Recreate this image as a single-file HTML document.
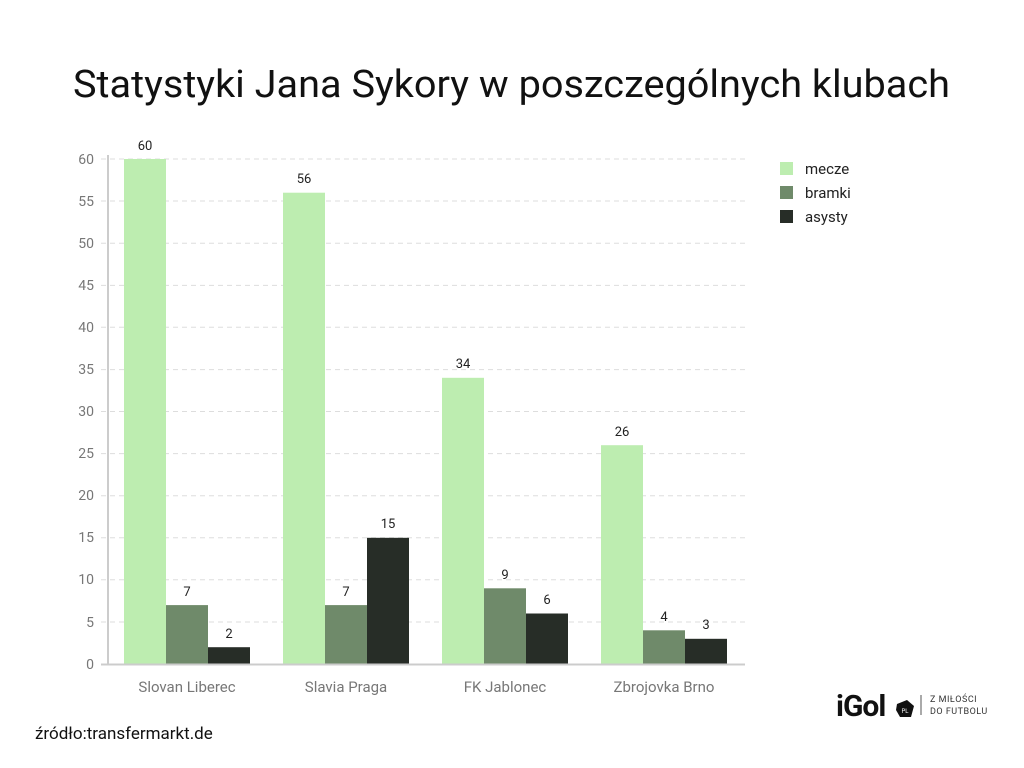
<!DOCTYPE html>
<html><head><meta charset="utf-8"><style>body{margin:0;background:#fff}svg{display:block}</style></head><body>
<svg width="1024" height="768" xmlns="http://www.w3.org/2000/svg" font-family="Roboto, 'Liberation Sans', sans-serif">
<text x="73" y="97" font-size="38" textLength="877" lengthAdjust="spacingAndGlyphs" fill="#111">Statystyki Jana Sykory w poszczególnych klubach</text>
<g stroke="#ddd" stroke-dasharray="5,4" stroke-width="1">
<line x1="101" x2="745" y1="159" y2="159"/><line x1="101" x2="745" y1="201" y2="201"/><line x1="101" x2="745" y1="243.3" y2="243.3"/><line x1="101" x2="745" y1="285.4" y2="285.4"/><line x1="101" x2="745" y1="327.3" y2="327.3"/><line x1="101" x2="745" y1="369.6" y2="369.6"/><line x1="101" x2="745" y1="411.5" y2="411.5"/><line x1="101" x2="745" y1="453.6" y2="453.6"/><line x1="101" x2="745" y1="495.7" y2="495.7"/><line x1="101" x2="745" y1="537.8" y2="537.8"/><line x1="101" x2="745" y1="579.8" y2="579.8"/><line x1="101" x2="745" y1="622" y2="622"/>
</g>
<g font-size="14" fill="#777" text-anchor="end">
<text x="94" y="164">60</text><text x="94" y="206">55</text><text x="94" y="248">50</text><text x="94" y="290">45</text><text x="94" y="332">40</text><text x="94" y="374">35</text><text x="94" y="416">30</text><text x="94" y="458">25</text><text x="94" y="500">20</text><text x="94" y="542">15</text><text x="94" y="584">10</text><text x="94" y="627">5</text><text x="94" y="669">0</text>
</g>
<g fill="#bdedb0"><rect x="124" y="159" width="42" height="505"/><rect x="283" y="192.7" width="42" height="471.3"/><rect x="442" y="377.8" width="42" height="286.2"/><rect x="601" y="445.2" width="42" height="218.8"/></g>
<g fill="#6f8a6a"><rect x="166" y="605.1" width="42" height="58.9"/><rect x="325" y="605.1" width="42" height="58.9"/><rect x="484" y="588.3" width="42" height="75.7"/><rect x="643" y="630.3" width="42" height="33.7"/></g>
<g fill="#272d27"><rect x="208" y="647.2" width="42" height="16.8"/><rect x="367" y="537.8" width="42" height="126.2"/><rect x="526" y="613.5" width="42" height="50.5"/><rect x="685" y="638.8" width="42" height="25.2"/></g>
<line x1="108" x2="108" y1="155" y2="665" stroke="#ccc" stroke-width="2"/>
<line x1="101" x2="745" y1="664.5" y2="664.5" stroke="#ccc" stroke-width="2"/>
<g font-size="13" fill="#222" text-anchor="middle">
<text x="145" y="150">60</text><text x="187" y="596">7</text><text x="229" y="638">2</text>
<text x="304" y="183">56</text><text x="346" y="596">7</text><text x="388" y="528">15</text>
<text x="463" y="368">34</text><text x="505" y="579">9</text><text x="547" y="604">6</text>
<text x="622" y="436">26</text><text x="664" y="621">4</text><text x="706" y="629">3</text>
</g>
<g font-size="15" fill="#777" text-anchor="middle">
<text x="187" y="692">Slovan Liberec</text><text x="346" y="692">Slavia Praga</text><text x="505" y="692">FK Jablonec</text><text x="664" y="692">Zbrojovka Brno</text>
</g>
<rect x="780" y="162" width="13" height="13" fill="#bdedb0"/><rect x="780" y="186" width="13" height="13" fill="#6f8a6a"/><rect x="780" y="210" width="13" height="13" fill="#272d27"/>
<g font-size="15" fill="#222"><text x="805" y="174">mecze</text><text x="805" y="198">bramki</text><text x="805" y="222">asysty</text></g>
<text x="35" y="739" font-size="17" fill="#111">źródło:transfermarkt.de</text>
<text x="836" y="716" font-size="30" font-weight="bold" fill="#111" letter-spacing="-1">iGol</text>
<polygon points="897,704 907,700 914,706 911,717 900,717 896,710" fill="#111"/>
<text x="905" y="713" font-size="6" fill="#fff" text-anchor="middle">PL</text>
<line x1="921" x2="921" y1="695" y2="715" stroke="#555"/>
<g font-size="9" fill="#333" letter-spacing="0.5"><text x="930" y="702">Z MIŁOŚCI</text><text x="930" y="714">DO FUTBOLU</text></g>
</svg>
</body></html>
